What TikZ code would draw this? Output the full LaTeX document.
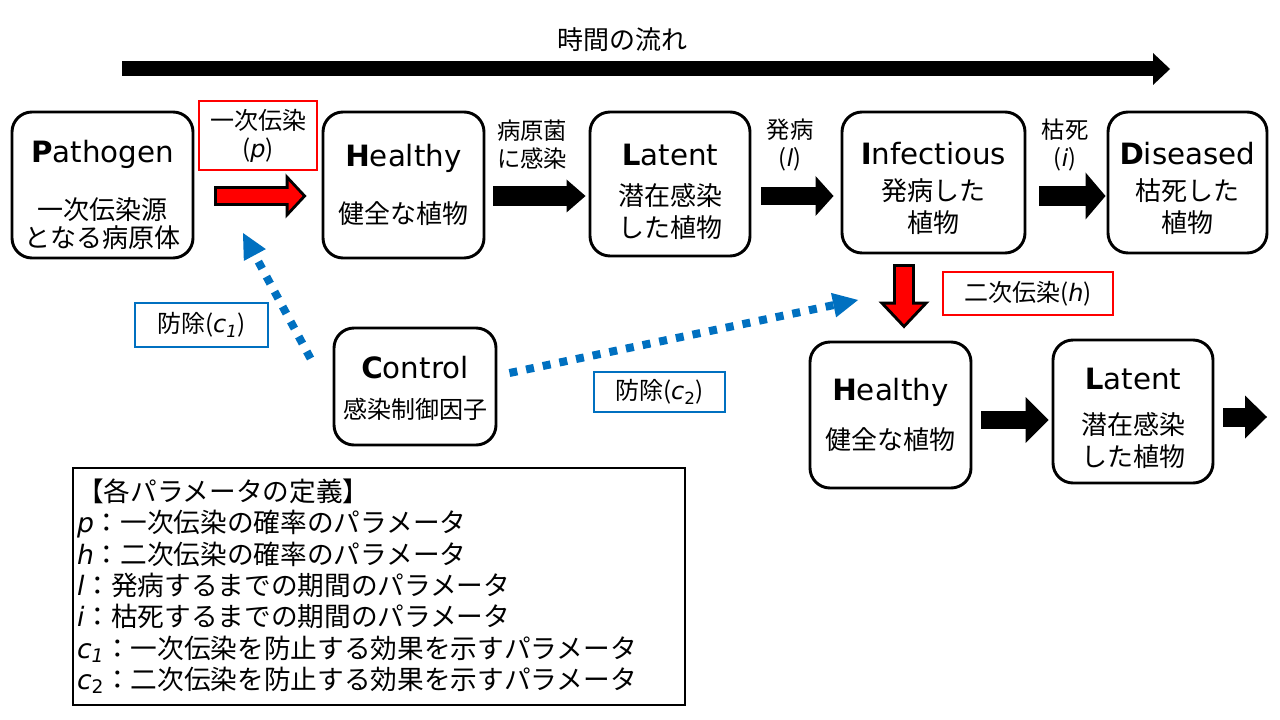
\documentclass[tikz,border=0pt]{standalone}
\usepackage{fontspec}
\setmainfont{DejaVu Sans}
\newfontfamily\jp{Noto Sans CJK JP}
\usetikzlibrary{arrows.meta,calc}
\definecolor{ctrlblue}{RGB}{0,112,192}
% title word of a box: bold first letter, optional push down
\newcommand{\hd}[3][0pt]{{\rmfamily\fontsize{22}{26}\selectfont\rule{0pt}{\dimexpr 16.7pt+#1*2\relax}\textbf{#2}#3}}
\newcommand{\pv}[1]{{\normalfont\itshape #1}}

\begin{document}
\begin{tikzpicture}[x={(0.75pt,0)}, y={(0,-0.75pt)}]
	\tikzset{stage/.style={draw, line width=2.2pt, rounded corners=15pt, align=center, inner sep=0pt, font=\jp\fontsize{19.5}{21}\selectfont}}
	\tikzset{redtag/.style={draw=red, line width=1.6pt, align=center, inner sep=0pt, font=\jp\fontsize{18}{21}\selectfont}}
	\tikzset{bluetag/.style={draw=ctrlblue, line width=1.6pt, inner sep=0pt, font=\jp\fontsize{18}{21}\selectfont}}
	\tikzset{blockarr/.style n args={3}{line width=#1, -{Triangle[length=#2, width=#3, line width=0pt]}}}
	\tikzset{ctrlarr/.style={ctrlblue, line width=6pt, dash pattern=on 6pt off 6.75pt, -{Triangle[length=18.75pt, width=18.75pt, line width=0pt]}}}
	\useasboundingbox (0,0) rectangle (1280,720);

	% time axis
	\node[font=\jp\fontsize{19.5}{22}\selectfont] (timeline) at (622,40) {時間の流れ};
	\coordinate (t0) at (122,69);
	\coordinate (t1) at (1170,69);
	\draw[blockarr={11.25pt}{12.75pt}{24pt}] (t0) -- (t1);

	% first row
	\node[stage, minimum width=135.75pt, minimum height=109.5pt] (pathogen) at (102.5,185) {\hd[7.5pt]{P}{athogen}\\[21.5pt] 一次伝染源\\ となる病原体};
	\node[stage, minimum width=120.75pt, minimum height=109.5pt] (healthy) at (403.5,185) {\hd{H}{ealthy}\\[22pt] 健全な植物};
	\node[stage, minimum width=120pt, minimum height=108pt] (latent) at (670,184) {\hd[5.25pt]{L}{atent}\\[9pt] 潜在感染\\[3pt] した植物};
	\node[stage, minimum width=137.25pt, minimum height=105.75pt] (infectious) at (933.5,182.5) {\hd[4.5pt]{I}{nfectious}\\[6pt] 発病した\\[3pt] 植物};
	\node[stage, minimum width=119.25pt, minimum height=105.75pt] (diseased) at (1187.5,182.5) {\hd[4.5pt]{D}{iseased}\\[6pt] 枯死した\\[3pt] 植物};

	% second row
	\node[stage, minimum width=121.5pt, minimum height=87.75pt] (control) at (415,386.5) {\hd[1.5pt]{C}{ontrol}\\[8.5pt] {\fontsize{18}{20}\selectfont 感染制御因子}};
	\node[stage, minimum width=120.75pt, minimum height=109.5pt] (healthy2) at (890.5,415) {\hd{H}{ealthy}\\[16pt] 健全な植物};
	\node[stage, minimum width=120pt, minimum height=107.25pt] (latent2) at (1133,411.5) {\hd[4.5pt]{L}{atent}\\[12.75pt] 潜在感染\\[3pt] した植物};

	% transition labels
	\node[redtag, minimum width=88.5pt, minimum height=51.75pt] (ptag) at (258,135.5) {一次伝染\\ (\pv{p})};
	\node[font=\jp\fontsize{17.5}{21}\selectfont, align=center] (infect) at (532,145) {病原菌\\ に感染};
	\node[font=\jp\fontsize{17.5}{21}\selectfont, align=center] (onset) at (790,145) {発病\\ (\pv{l})};
	\node[font=\jp\fontsize{17.5}{21}\selectfont, align=center] (death) at (1065,145) {枯死\\ (\pv{i})};
	\node[redtag, minimum width=127.5pt, minimum height=32.25pt] (htag) at (1028,293.5) {二次伝染(\pv{h})};
	\node[bluetag, minimum width=99.75pt, minimum height=33pt] (c1tag) at (201.5,325) {防除(\pv{c}\textsubscript{\pv{1}})};
	\node[bluetag, minimum width=98.25pt, minimum height=30pt] (c2tag) at (659.5,392) {防除(\pv{c}\textsubscript{\normalfont 2})};

	% block arrows
	\coordinate (row) at (0,196);
	\coordinate (rowb) at (0,420);
	\coordinate (col) at (904,0);
	\coordinate (next) at (1267,417);
	\draw[blockarr={15pt}{15.75pt}{33.75pt}, shorten <=15pt, shorten >=11.25pt] (pathogen.east |- row) -- (healthy.west |- row);
	\draw[red, blockarr={10.5pt}{10.4pt}{22.4pt}, shorten <=17.25pt, shorten >=14.3pt] (pathogen.east |- row) -- (healthy.west |- row);
	\draw[blockarr={15pt}{14.25pt}{24.75pt}, shorten <=6pt, shorten >=2.25pt] (healthy.east |- row) -- (latent.west |- row);
	\draw[blockarr={13.5pt}{13.5pt}{30pt}, shorten <=7.5pt, shorten >=5.25pt] (latent.east |- row) -- (infectious.west |- row);
	\draw[blockarr={15pt}{15pt}{35.25pt}, shorten <=9.75pt, shorten >=0.75pt] (infectious.east |- row) -- (diseased.west |- row);
	\draw[blockarr={16.5pt}{20.25pt}{38.25pt}, shorten <=7.5pt, shorten >=9pt] (infectious.south -| col) -- (healthy2.north -| col);
	\draw[red, blockarr={12pt}{14.7pt}{27.8pt}, shorten <=9.75pt, shorten >=12.3pt] (infectious.south -| col) -- (healthy2.north -| col);
	\draw[blockarr={13.5pt}{17.25pt}{34.5pt}, shorten <=6.75pt, shorten >=2.25pt] (healthy2.east |- rowb) -- (latent2.west |- rowb);
	\draw[blockarr={14.25pt}{16.5pt}{32.25pt}, shorten <=6.75pt] (latent2.east |- next) -- (next);

	% control effects
	\coordinate (c1tip) at (243,233);
	\coordinate (c2tip) at (858,300);
	\draw[ctrlarr] ($(control.west)+(-22,-28)$) -- (c1tip);
	\draw[ctrlarr] ($(control.east)+(12,-13.5)$) -- (c2tip);

	% parameter list
	\node[draw, line width=2.2pt, text width=453pt, inner xsep=3pt, minimum height=177.75pt, align=left, font=\jp\fontsize{20}{23.5}\selectfont] (defs) at (379,586.5) {【各パラメータの定義】\\
		\pv{p}：一次伝染の確率のパラメータ\\
		\pv{h}：二次伝染の確率のパラメータ\\
		\pv{l}：発病するまでの期間のパラメータ\\
		\pv{i}：枯死するまでの期間のパラメータ\\
		\pv{c}\textsubscript{\pv{1}}：一次伝染を防止する効果を示すパラメータ\\
		\pv{c}\textsubscript{\normalfont 2}：二次伝染を防止する効果を示すパラメータ};
\end{tikzpicture}
\end{document}
